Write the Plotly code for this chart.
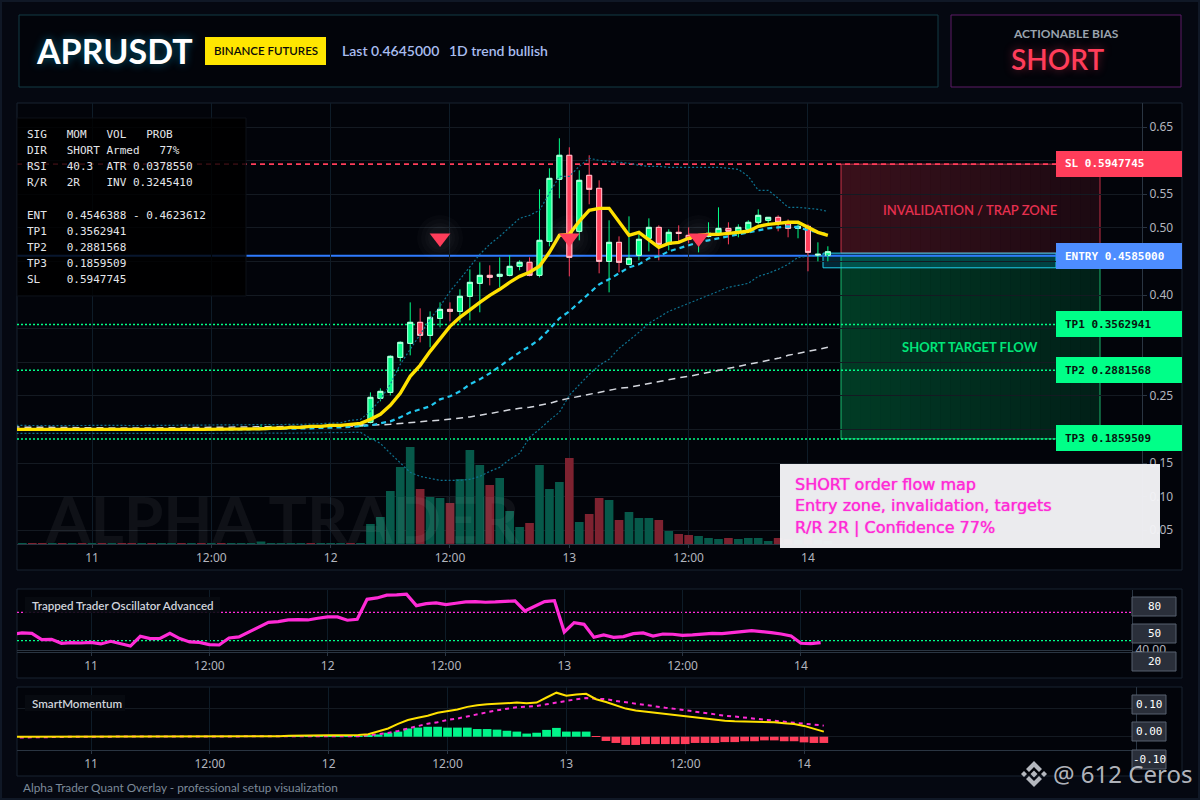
import pandas as pd
import plotly.graph_objects as go

W, H = 1200, 800

# hourly bars, h=0 is the "11" tick
times = pd.date_range("2026-01-10 16:00", periods=83, freq="h")

opens = [.2000,.2006,.2012,.2005,.1998,.2004,.1999,.2006,.2000,.2005,.1999,.2003,.1998,.1994,.1999,.1995,.2000,.2004,
         .1999,.2003,.1998,.2003,.1998,.2002,.2006,.2010,.2022,.2028,.2033,.2038,.2043,.2036,.2044,.2052,.2060,.2052,
         .2106,.2463,.2552,.3073,.3281,.3594,.34,.3653,.3787,.3757,.3981,.4174,.4293,.4278,.4293,.4427,.4487,.4293,.4799,
         .5722,.6079,.4948,.5781,.5588,.4501,.4784,.4457,.4591,.4844,.5007,.4754,.4933,.4888,.4784,.4873,.4918,.4992,.4948,
         .4978,.5082,.5112,.5156,.5082,.4992,.5022,.4591,.4591]
highs = [.2013,.2019,.2019,.2012,.2011,.2011,.2013,.2013,.2012,.2012,.2010,.2010,.2005,.2006,.2006,.2007,.2011,.2011,
         .2010,.2010,.2010,.2010,.2009,.2013,.2017,.2070,.2060,.2040,.2045,.2050,.2050,.2051,.2059,.2067,.2067,.2087,
         .2552,.2612,.3103,.3311,.3891,.3802,.3757,.3891,.3891,.4085,.4382,.4487,.4442,.4561,.4591,.4516,.4561,.5573,.5885,
         .6332,.6198,.5856,.6079,.5707,.5112,.4873,.5171,.4903,.5141,.5037,.4978,.5037,.5007,.4903,.5082,.5305,.5082,.5052,
         .5112,.5275,.5156,.5186,.5126,.5052,.5052,.4784,.4725]
lows = [.1993,.1999,.1998,.1991,.1991,.1992,.1992,.1993,.1993,.1992,.1992,.1991,.1987,.1987,.1988,.1988,.1993,.1992,
        .1992,.1991,.1991,.1991,.1991,.1995,.1999,.2003,.2015,.2021,.2026,.2031,.2029,.2029,.2037,.2045,.2045,.2045,
        .2091,.2418,.2508,.3013,.3103,.3296,.3222,.3519,.3609,.3594,.3624,.3743,.4144,.4115,.4278,.4368,.4278,.4263,.4725,
        .5439,.4278,.4814,.535,.4323,.404,.4338,.4442,.4516,.465,.4516,.4665,.4799,.4769,.4635,.4858,.4903,.4754,.4859,
        .4948,.5052,.5067,.4948,.4859,.4844,.4353,.4501,.4501]
closes = [.2006,.2012,.2005,.1998,.2004,.1999,.2006,.2000,.2005,.1999,.2003,.1998,.1994,.1999,.1995,.2000,.2004,.1999,
          .2003,.1998,.2003,.1998,.2002,.2006,.2010,.2022,.2028,.2033,.2038,.2043,.2036,.2044,.2052,.2060,.2052,.2080,
          .2478,.2567,.3088,.3296,.3594,.34,.3668,.3787,.3757,.3981,.4189,.4293,.4263,.4308,.4427,.4487,.4293,.4814,.5736,
          .6079,.4561,.5707,.5573,.4501,.4784,.4487,.4546,.4829,.5007,.4754,.4933,.4918,.4829,.4844,.4918,.4992,.4948,.5007,
          .5082,.5186,.5156,.5082,.4992,.5022,.4635,.4606,.4645]
volume = [1,1,1,1,1,1,1,1,1,1,1,1,1,1,1,1,1,1,1,1,1,1,1,1,1,2.5,1,1,1,1,1,1,1,1,1,1,
          20,27,53,77,97,55,47,46,41,65,94,79,59,66,33,17,21,79,55,62,86,22,30,46,44,24,32,26,26,24,
          13,10,9,8,6,5,6,5,6,6,3,6,5,4,9,4,3]

ema_fast = [.2002,.2004,.2003,.2001,.2002,.2001,.2002,.2002,.2003,.2002,.2002,.2001,.2000,.2000,.2000,.2000,.2001,.2001,
            .2002,.2001,.2001,.2001,.2001,.2002,.2002,.2009,.2017,.2017,.2031,.2031,.2046,.2046,.2061,.2061,.2076,.2091,
            .215,.2225,.2359,.2537,.279,.2954,.3162,.3356,.3534,.3668,.3787,.3891,.3996,.4085,.4189,.4278,.4338,.4427,.4635,
            .4888,.4903,.5097,.526,.529,.529,.5097,.4888,.4933,.4829,.471,.4769,.4784,.4844,.4888,.4903,.4903,.4918,.4933,
            .4948,.5022,.5052,.5067,.5082,.5082,.5007,.4933,.4888]
ema_mid = [.2004,.2003,.2001,.2000,.2002,.2000,.2003,.2002,.2000,.2002,.2001,.2000,.2000,.2002,.2001,.2000,.2002,.2000,
           .2001,.2000,.2002,.2001,.2000,.2001,.2002,.2002,.2005,.2005,.2009,.2009,.2017,.2024,.2024,.2031,.2039,.2046,
           .2061,.2091,.2121,.218,.2255,.2299,.2344,.2448,.2493,.2567,.2671,.2746,.2835,.2939,.3043,.3147,.3237,.3341,.349,
           .3653,.3757,.3891,.4025,.4159,.4234,.4323,.4412,.4457,.4546,.4576,.465,.4695,.474,.4784,.4814,.4844,.4873,.4903,
           .4933,.4963,.4992,.5007,.5022,.5007,.4963,.4933,.4903]
ema_slow = [.2036,.2034,.2031,.2030,.2028,.2026,.2025,.2022,.2021,.2020,.2020,.2019,.2020,.2021,.2022,.2023,.2024,.2025,
            .2026,.2026,.2027,.2028,.2029,.2030,.2031,.2033,.2036,.2040,.2043,.2046,.2049,.2051,.2053,.2055,.2057,.2059,
            .2061,.2069,.2076,.2091,.2106,.2121,.2128,.2136,.215,.2165,.2187,.221,.224,.2269,.2292,.2314,.2329,.2359,.2388,
            .2433,.2463,.2493,.2522,.2552,.2582,.2612,.2627,.2656,.2686,.2716,.2746,.2768,.279,.282,.285,.2879,.2909,.2939,
            .2969,.2999,.3028,.3058,.3103,.3132,.3162,.3192,.3222]
bb_upper = [.2060,.2058,.2061,.2059,.2060,.2058,.2059,.2061,.2060,.2058,.2059,.2060,.2058,.2059,.2060,.2061,.2059,.2060,
            .2058,.2059,.2060,.2061,.2060,.2059,.2060,.2062,.2065,.2068,.2072,.2076,.2080,.2085,.2090,.2100,.2136,.215,
            .2269,.2448,.2671,.2969,.3192,.3415,.3638,.3832,.4055,.4234,.4427,.4606,.4754,.4873,.5007,.5141,.5186,.526,.5513,
            .5766,.5766,.5915,.6034,.6004,.5989,.5975,.596,.593,.5915,.5915,.59,.59,.59,.59,.59,.59,.5885,.587,
            .5766,.5558,.5558,.5439,.5305,.5305,.529,.5275,.5245]
bb_lower = [.1942,.1944,.1941,.1943,.1942,.1944,.1943,.1941,.1942,.1944,.1943,.1942,.1944,.1943,.1942,.1941,.1943,.1942,
            .1944,.1943,.1942,.1941,.1942,.1943,.1942,.1943,.1944,.1945,.1946,.1947,.1948,.1950,.1952,.1954,.1957,.1957,
            .1868,.1793,.1644,.1496,.1362,.1302,.1272,.1243,.1243,.1243,.1258,.1302,.1377,.1436,.1555,.1644,.1883,.2002,.2136,
            .2255,.2508,.2671,.282,.2954,.3043,.3207,.3326,.3445,.3579,.3668,.3757,.3817,.3876,.3936,.3996,.4055,.4115,.4144,
            .4174,.4278,.4323,.4382,.4457,.4561,.4576,.4576,.4591]

oscillator = [56.8,58.2,57.8,51.1,51.5,47.3,48,47.6,48.3,46.6,
              49.4,46.6,44.4,54.7,52.2,52.5,57.8,52.2,48.7,48.3,
              45.9,45.5,52.9,54,59.2,63.8,69.4,70.1,71.9,72.3,
              71.9,73.7,75.1,75.1,71.6,72.6,93.7,95.1,98,98.3,
              99,87,89.2,89.9,88.1,89.5,90.9,91.3,90.6,90.9,
              91.6,92,81.4,86,91.3,92.3,59.2,69.1,67.3,53.6,
              56.1,53.6,54.3,57.5,58.2,55,57.1,56.8,55.7,56.1,
              56.8,57.8,57.5,58.2,59.6,60.6,59.9,58.5,57.1,55,
              47.3,46.9,48]

mom_line = [0,0,0,0,0,0,0,0,0,0,0,0,0,0,0,0,0,0,0,0,0,0,0,0,0,
            .001,.002,.002,.003,.004,.004,.005,.005,.005,.005,
            .006,.009,.018,.029,.045,.059,.067,.074,.084,.089,.096,.105,.111,.114,.116,.119,.12,.118,.12,.138,.155,
            .144,.149,.151,.132,.122,.111,.099,.092,.088,.082,.079,.074,.071,.066,.062,.06,.056,.054,.053,.052,.052,
            .051,.047,.045,.038,.028,.018]
mom_signal = [-.003,-.003,-.002,-.002,-.001,-.001,0,0,0,0,0,0,0,0,0,0,0,0,0,0,0,0,0,0,0,
              .001,.001,.001,.001,.001,.001,.001,.001,.001,.001,
              .002,.005,.008,.013,.02,.028,.038,.046,.051,.059,.064,.072,.079,.086,.093,.098,.104,.106,.108,.114,.12,
              .128,.132,.136,.135,.132,.126,.121,.115,.111,.107,.102,.098,.093,.088,.084,.079,.074,.071,.067,.064,.06,
              .056,.053,.049,.046,.042,.039]
mom_hist = [0,0,0,0,0,0,0,0,0,0,0,0,0,0,0,0,0,0,0,0,0,0,0,0,0,0,
            .001,.001,.001,.001,.001,.002,.002,.002,.002,.002,
            .005,.008,.014,.018,.029,.032,.035,.035,.032,.032,.032,.027,.027,.025,.021,.018,.011,.014,.024,.031,
            .018,.018,.018,-.001,-.015,-.022,-.029,-.029,-.026,-.026,-.026,-.026,-.026,-.022,-.022,-.022,-.019,-.019,
            -.016,-.016,-.013,-.013,-.016,-.016,-.02,-.022,-.022]

signal_times = ["2026-01-12 11:00", "2026-01-13 00:00", "2026-01-13 13:00"]
signal_prices = [0.485, 0.485, 0.485]

sl_price = 0.5947745
entry_price = 0.4585
entry_hi = 0.4623612
entry_box_lo = 0.4405
tp1_price = 0.3562941
tp2_price = 0.2881568
tp3_price = 0.1859509

tick_times = ["2026-01-11 00:00", "2026-01-11 12:00", "2026-01-12 00:00", "2026-01-12 12:00",
              "2026-01-13 00:00", "2026-01-13 12:00", "2026-01-14 00:00"]
tick_text = ["11", "12:00", "12", "12:00", "13", "12:00", "14"]

info_lines = ["SIG   MOM   VOL   PROB",
              "DIR   SHORT Armed   77%",
              "RSI   40.3  ATR 0.0378550",
              "R/R   2R    INV 0.3245410",
              "",
              "ENT   0.4546388 - 0.4623612",
              "TP1   0.3562941",
              "TP2   0.2881568",
              "TP3   0.1859509",
              "SL    0.5947745"]

for name, s in [("o", opens), ("h", highs), ("l", lows), ("c", closes), ("v", volume), ("f", ema_fast), ("m", ema_mid),
                ("s", ema_slow), ("u", bb_upper), ("d", bb_lower), ("os", oscillator), ("ml", mom_line),
                ("ms", mom_signal), ("mh", mom_hist)]:
    if len(s) != 83:
        raise ValueError(f"{name} has {len(s)} values")

BG = "#050811"
PANEL = "#02040a"
FRAME = "#182330"
GRID = "#141a22"
VGRID = "#0e1c28"
AXIS = "#2a3542"
TICK = "#b2b5be"
GREEN = "#00ff88"
RED = "#ff3d5a"
BLUE = "#4d8dff"
YELLOW = "#ffe100"
MAGENTA = "#ff2bd6"
SANS = "Lato"
MONO = "DejaVu Sans Mono"


def fx(x):
    return x / W


def fy(y):
    return 1 - y / H


def x_range(x0, x1, tick0_px, px_per_hour):
    base = pd.Timestamp("2026-01-11 00:00")
    return [base + pd.Timedelta(hours=(x0 - tick0_px) / px_per_hour),
            base + pd.Timedelta(hours=(x1 - tick0_px) / px_per_hour)]


shapes = []
notes = []


def box(x0, y0, x1, y1, fill="rgba(0,0,0,0)", line=None, width=1, layer="below"):
    shapes.append(dict(type="rect", xref="paper", yref="paper", x0=fx(x0), x1=fx(x1), y0=fy(y0), y1=fy(y1),
                       fillcolor=fill, line=dict(color=line or "rgba(0,0,0,0)", width=width if line else 0), layer=layer))


def level(price, x0, x1, color, dash, width=1.2, yref="y2"):
    shapes.append(dict(type="line", xref="paper", yref=yref, x0=fx(x0), x1=fx(x1), y0=price, y1=price,
                       line=dict(color=color, dash=dash, width=width), layer="below"))


def text(x, y, s, size, color, family=SANS, anchor="left", weight=400, shadow=None):
    font = dict(family=family, size=size, color=color, weight=weight)
    if shadow:
        font["shadow"] = shadow
    notes.append(dict(xref="paper", yref="paper", x=fx(x), y=fy(y), text=s, showarrow=False, xanchor=anchor,
                      yanchor="middle", font=font, borderpad=0, borderwidth=0))


def poly(points, cx, cy, color):
    path = "M " + " L ".join(f"{fx(cx + a)} {fy(cy + b)}" for a, b in points) + " Z"
    shapes.append(dict(type="path", xref="paper", yref="paper", path=path, fillcolor=color,
                       line=dict(width=0), layer="above"))


# page and panel frames
box(1, 1, W - 1, H - 1, BG, "#101826", 2)
box(19, 15, 938, 87, PANEL, "#123a45")
box(951, 15, 1181, 87, PANEL, "#5c1a66")
box(17, 103, 1182, 570, PANEL, FRAME)
box(17, 589, 1182, 678, PANEL, FRAME)
box(17, 687, 1182, 776, PANEL, FRAME)

# trade zones, faded to the right in small steps
steps = 26
zx0, zx1 = 841, 1100
for i in range(steps):
    a = zx0 + (zx1 - zx0) * i / steps
    b = zx0 + (zx1 - zx0) * (i + 1) / steps
    shapes.append(dict(type="rect", xref="paper", yref="y2", x0=fx(a), x1=fx(b), y0=entry_hi, y1=sl_price,
                       fillcolor=f"rgba(255,61,90,{0.22 - 0.12 * i / steps:.3f})", line=dict(width=0), layer="below"))
    shapes.append(dict(type="rect", xref="paper", yref="y2", x0=fx(a), x1=fx(b), y0=tp3_price, y1=entry_price,
                       fillcolor=f"rgba(0,255,136,{0.22 - 0.11 * i / steps:.3f})", line=dict(width=0), layer="below"))
shapes.append(dict(type="rect", xref="paper", yref="y2", x0=fx(zx0), x1=fx(zx1), y0=entry_hi, y1=sl_price,
                   line=dict(color="rgba(255,61,90,0.75)", width=1), layer="below"))
shapes.append(dict(type="rect", xref="paper", yref="y2", x0=fx(zx0), x1=fx(zx1), y0=tp3_price, y1=entry_price,
                   line=dict(color="rgba(34,220,130,0.8)", width=1), layer="below"))
shapes.append(dict(type="rect", xref="paper", yref="y2", x0=fx(823), x1=fx(1056), y0=entry_box_lo, y1=entry_hi,
                   fillcolor="rgba(0,200,255,0.18)", line=dict(color="#1fd0ee", width=1), layer="below"))

# level lines
level(sl_price, 17, 1056, RED, "5px,4px", 1.6)
level(entry_price, 17, 1056, "#2f7bff", "solid", 2)
level(tp1_price, 17, 1056, GREEN, "2px,2px", 1.5)
level(tp2_price, 17, 1056, GREEN, "2px,2px", 1.5)
level(tp3_price, 17, 1056, GREEN, "2px,2px", 1.5)
level(80, 17, 1132, MAGENTA, "2px,2px", 1.3, "y3")
level(50, 17, 1132, GREEN, "2px,2px", 1.3, "y3")

# header
text(36, 51, "APRUSDT", 34, "white", weight=700, shadow="0 0 10px rgba(0,200,255,0.45)")
box(205, 37, 326, 65, "#ffe600", layer="above")
text(265.5, 51, "BINANCE FUTURES", 11.5, "#0a0a0a", anchor="center", weight=600)
text(342, 51, "Last 0.4645000", 14, "#a9bdf0", weight=600)
text(449, 51, "1D trend bullish", 14, "#a9bdf0", weight=600)
text(1065.5, 34, "ACTIONABLE BIAS", 12, "#9aa3ae", anchor="center", weight=700)
text(1057, 59, "SHORT", 28, RED, anchor="center", weight=600, shadow="0 0 10px rgba(255,61,90,0.45)")

# info table
box(17, 118, 246, 296, "rgba(0,0,0,0.82)", "#0c1118", layer="above")
for i, line in enumerate(info_lines):
    if line:
        text(27, 134 + i * 16.2, line, 11, "#e4e6ea", MONO)

# price flags
flags = [("SL 0.5947745", 164, RED, "white"), ("ENTRY 0.4585000", 256, BLUE, "white"),
         ("TP1 0.3562941", 324, GREEN, "#07140e"), ("TP2 0.2881568", 370, GREEN, "#07140e"),
         ("TP3 0.1859509", 438, GREEN, "#07140e")]
for s, y, fill, color in flags:
    box(1056, y - 13, 1182, y + 13, fill, layer="above")
    text(1065, y, s, 11, color, MONO, weight=700)

text(970, 210, "INVALIDATION / TRAP ZONE", 13, "#e6304f", anchor="center", weight=600)
text(970, 347, "SHORT TARGET FLOW", 13, "#00e67a", anchor="center", weight=700)

# note box
box(780, 464, 1160, 548, "rgba(243,243,246,0.97)", layer="above")
note_glow = "0 0 1px #ff2bd6"
text(795, 485, "SHORT order flow map", 16, MAGENTA, "DejaVu Sans", shadow=note_glow)
text(795, 506, "Entry zone, invalidation, targets", 16, MAGENTA, "DejaVu Sans", shadow=note_glow)
text(795, 527, "R/R 2R | Confidence 77%", 16, MAGENTA, "DejaVu Sans", shadow=note_glow)

# watermark
text(45, 518, "ALPHA TRADER", 64, "rgba(255,255,255,0.055)", weight=700)

# sub panel captions and value boxes
box(25, 597, 220, 613, "rgba(8,11,17,0.9)", layer="above")
text(32, 605, "Trapped Trader Oscillator Advanced", 11.6, "#d0d4dc", weight=600)
box(25, 695, 125, 711, "rgba(8,11,17,0.9)", layer="above")
text(32, 703, "SmartMomentum", 11.6, "#d0d4dc", weight=600)
for s, y0 in [("80", 597), ("50", 624), ("20", 652)]:
    box(1132, y0, 1176, y0 + 19, "#2a2f3a", "#56606e", layer="above")
    text(1154, y0 + 9.5, s, 11, "white", MONO, anchor="center")
for s, y0 in [("0.10", 695), ("0.00", 722), ("-0.10", 750)]:
    box(1132, y0, 1166, y0 + 19, "#2a2f3a", "#56606e", layer="above")
    text(1149, y0 + 9.5, s, 11, "white", MONO, anchor="center")

text(23, 787, "Alpha Trader Quant Overlay - professional setup visualization", 11.8, "#7c8a99")

# corner logo and handle
logo = "rgba(200,203,210,0.9)"
poly([(0, -13), (8, -5), (5, -2), (0, -7), (-5, -2), (-8, -5)], 1034, 774, logo)
poly([(0, 13), (8, 5), (5, 2), (0, 7), (-5, 2), (-8, 5)], 1034, 774, logo)
poly([(-13, 0), (-10, -3), (-7, 0), (-10, 3)], 1034, 774, logo)
poly([(13, 0), (10, -3), (7, 0), (10, 3)], 1034, 774, logo)
poly([(0, -3.5), (3.5, 0), (0, 3.5), (-3.5, 0)], 1034, 774, logo)
text(1053, 773, "@ 612 Ceros", 24, "rgba(200,203,210,0.9)", "Noto Sans")

fig = go.Figure()

# volume sits on the base axis so that the price traces draw over it
vol_colors = ["#07594a" if c >= o else "#7e2230" for o, c in zip(opens, closes)]
fig.add_trace(go.Bar(x=times, y=volume, marker=dict(color=vol_colors, line=dict(width=0)), width=3600000 * 0.87,
                     xaxis="x", yaxis="y"))

# colored wicks first, then bodies with the pale outline
fig.add_trace(go.Candlestick(x=times, open=opens, high=highs, low=lows, close=closes, xaxis="x", yaxis="y2",
                             increasing=dict(line=dict(color=GREEN, width=1), fillcolor=GREEN),
                             decreasing=dict(line=dict(color=RED, width=1), fillcolor=RED)))
fig.add_trace(go.Candlestick(x=times, open=opens, close=closes, xaxis="x", yaxis="y2",
                             high=[max(o, c) for o, c in zip(opens, closes)],
                             low=[min(o, c) for o, c in zip(opens, closes)],
                             increasing=dict(line=dict(color="#d4ffec", width=0.9), fillcolor=GREEN),
                             decreasing=dict(line=dict(color="#ffd4dc", width=0.9), fillcolor=RED)))

fig.add_trace(go.Scatter(x=times, y=bb_upper, mode="lines", yaxis="y2",
                         line=dict(color="#0e7391", width=1.2, dash="2px,2px")))
fig.add_trace(go.Scatter(x=times, y=bb_lower, mode="lines", yaxis="y2",
                         line=dict(color="#0e7391", width=1.2, dash="2px,2px")))
fig.add_trace(go.Scatter(x=times, y=ema_slow, mode="lines", yaxis="y2",
                         line=dict(color="#d4d7de", width=1.5, dash="7px,5px")))
fig.add_trace(go.Scatter(x=times, y=ema_mid, mode="lines", yaxis="y2",
                         line=dict(color="#22c8f0", width=2.2, dash="5px,4px")))
fig.add_trace(go.Scatter(x=times, y=ema_fast, mode="lines", yaxis="y2", line=dict(color=YELLOW, width=3.4)))

# soft halo behind the signal triangles
for glow_size in [46, 38, 30, 24]:
    fig.add_trace(go.Scatter(x=signal_times, y=signal_prices, mode="markers", yaxis="y2",
                             marker=dict(symbol="circle", size=glow_size, color="rgba(255,255,255,0.018)",
                                         line=dict(width=0))))
fig.add_trace(go.Scatter(x=signal_times, y=signal_prices, mode="markers", yaxis="y2",
                         marker=dict(symbol="triangle-down", size=18, color=RED, line=dict(width=0))))

fig.add_trace(go.Scatter(x=times, y=oscillator, mode="lines", line=dict(color=MAGENTA, width=3.2),
                         xaxis="x2", yaxis="y3"))

hist_colors = ["#00f58a" if v >= 0 else RED for v in mom_hist]
fig.add_trace(go.Bar(x=times, y=mom_hist, marker=dict(color=hist_colors, line=dict(width=0)), width=3600000 * 0.88,
                     xaxis="x3", yaxis="y4"))
fig.add_trace(go.Scatter(x=times, y=mom_signal, mode="lines", line=dict(color=MAGENTA, width=2, dash="4px,4px"),
                         xaxis="x3", yaxis="y4"))
fig.add_trace(go.Scatter(x=times, y=mom_line, mode="lines", line=dict(color=YELLOW, width=2),
                         xaxis="x3", yaxis="y4"))

time_axis = dict(type="date", tickmode="array", tickvals=tick_times, ticktext=tick_text, showgrid=True,
                 gridcolor=VGRID, gridwidth=1, zeroline=False, showline=True, linecolor=AXIS, linewidth=1,
                 ticks="outside", ticklen=3, tickcolor=AXIS, tickfont=dict(family="Noto Sans", size=12, color=TICK),
                 rangeslider=dict(visible=False))

fig.update_layout(
    width=W, height=H, margin=dict(l=0, r=0, t=0, b=0, autoexpand=False), autosize=False,
    paper_bgcolor=BG, plot_bgcolor=PANEL, showlegend=False, hovermode=False,
    barmode="overlay", boxmode="overlay", boxgap=0.28, shapes=shapes, annotations=notes,
    xaxis=dict(time_axis, domain=[fx(17), fx(1142)], anchor="y", range=x_range(17, 1142, 92, 9.944)),
    xaxis2=dict(time_axis, domain=[fx(17), fx(1132)], anchor="y3", range=x_range(17, 1132, 91, 9.86)),
    xaxis3=dict(time_axis, domain=[fx(17), fx(1136)], anchor="y4", range=x_range(17, 1136, 91, 9.903)),
    # 441 px tall, so one volume unit is one pixel of bar height
    yaxis=dict(domain=[fy(544), fy(103)], range=[0, 441], anchor="x", showgrid=False, zeroline=False,
               showticklabels=False, ticks="", showline=False),
    yaxis2=dict(range=[0.0296, 0.6857], side="right", anchor="x", overlaying="y", dtick=0.05, tick0=0,
                tickformat=".2f", showgrid=True, gridcolor=GRID, zeroline=False, showline=True, linecolor=AXIS,
                ticks="outside", ticklen=4, tickcolor=AXIS, tickfont=dict(family="Noto Sans", size=12, color=TICK)),
    yaxis3=dict(domain=[fy(652), fy(590)], range=[38.1, 103.5], side="right", anchor="x2", tickmode="array",
                tickvals=[40], ticktext=["40.00"], showgrid=True, gridcolor=AXIS, zeroline=False, showline=True,
                linecolor=AXIS, tickfont=dict(family="Noto Sans", size=12, color=TICK)),
    yaxis4=dict(domain=[fy(750), fy(687)], range=[-0.0468, 0.175], side="right", anchor="x3", tickmode="array",
                tickvals=[0, 0.1], showticklabels=False, showgrid=True, gridcolor=GRID, zeroline=False,
                showline=True, linecolor=AXIS),
)

fig.write_html("out.html", config={"displayModeBar": False},
               post_script="document.body.style.margin = '0';")
